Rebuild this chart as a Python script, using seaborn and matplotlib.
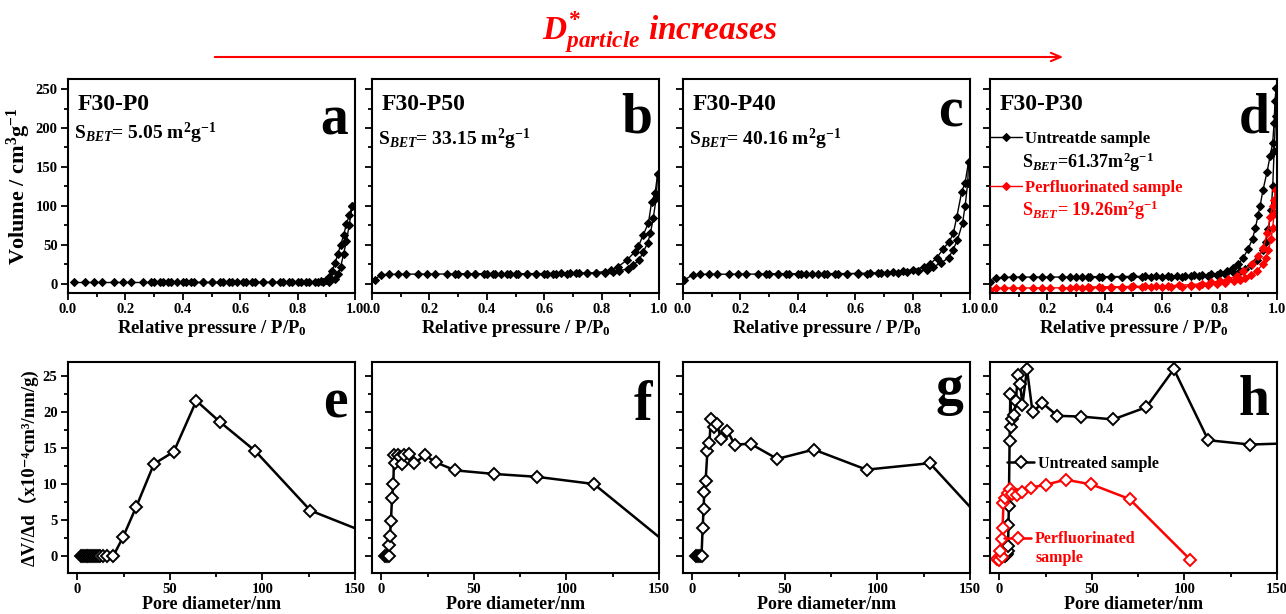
import matplotlib
matplotlib.use('Agg')
import matplotlib.pyplot as plt
from matplotlib.ticker import MultipleLocator
import seaborn as sns

# ---------------- isotherms (P/P0, volume cm3/g) ----------------
a_ads_p = [0.02, 0.06, 0.09, 0.12, 0.16, 0.19, 0.22, 0.26, 0.29, 0.33, 0.36, 0.40, 0.43, 0.47, 0.50, 0.54, 0.57, 0.61,
           0.64, 0.68, 0.71, 0.75, 0.78, 0.81, 0.84, 0.87, 0.89, 0.91, 0.93, 0.94, 0.95, 0.96, 0.97, 0.98, 0.99]
a_ads_v = [1.5, 1.5, 1.5, 1.5, 1.5, 1.5, 1.5, 1.5, 1.5, 1.5, 1.5, 1.5, 1.5, 1.5, 1.5, 1.5, 1.5, 1.5,
           1.5, 1.5, 1.5, 1.5, 1.5, 1.5, 1.5, 1.5, 1.6, 2.5, 6, 12, 22, 38, 55, 76, 100]
a_des_p = [0.99, 0.98, 0.97, 0.96, 0.95, 0.94, 0.93, 0.92, 0.91, 0.90, 0.88, 0.86, 0.83, 0.80, 0.77, 0.74,
           0.71, 0.68, 0.65, 0.62, 0.59, 0.56, 0.53, 0.50, 0.47, 0.44, 0.41, 0.38, 0.35, 0.32, 0.30]
a_des_v = [100, 88, 77, 62, 50, 38, 26, 16, 9, 5, 3, 2.2, 2, 1.9, 1.8, 1.8,
           1.8, 1.7, 1.7, 1.7, 1.7, 1.7, 1.6, 1.6, 1.6, 1.6, 1.6, 1.6, 1.5, 1.5, 1.5]

b_ads_p = [0.01, 0.03, 0.06, 0.09, 0.12, 0.16, 0.19, 0.22, 0.26, 0.29, 0.33, 0.36, 0.40, 0.43, 0.47, 0.50, 0.54, 0.57,
           0.61, 0.64, 0.68, 0.71, 0.75, 0.78, 0.81, 0.84, 0.86, 0.89, 0.91, 0.93, 0.945, 0.96, 0.97, 0.98, 0.99, 0.995]
b_ads_v = [5, 11.5, 12, 12, 12.2, 12.3, 12.3, 12.4, 12.4, 12.5, 12.5, 12.5, 12.6, 12.6, 12.6, 12.7, 12.7, 12.8,
           12.8, 12.9, 13, 13.1, 13.3, 13.6, 14, 15, 16.5, 19, 24, 30, 41, 52, 65, 85, 110, 141]
b_des_p = [0.995, 0.986, 0.974, 0.963, 0.945, 0.928, 0.916, 0.887, 0.858, 0.834, 0.81, 0.78, 0.75, 0.72,
           0.69, 0.66, 0.63, 0.60, 0.57, 0.54, 0.51, 0.48, 0.45, 0.42, 0.39, 0.36, 0.33, 0.30]
b_des_v = [141, 116, 105, 78, 63, 48, 41, 30, 22, 18, 15.5, 14.3, 13.7, 13.4,
           13.2, 13.1, 13.0, 12.9, 12.9, 12.8, 12.8, 12.7, 12.7, 12.7, 12.6, 12.6, 12.6, 12.5]

c_ads_p = [0.005, 0.035, 0.06, 0.09, 0.12, 0.16, 0.19, 0.22, 0.26, 0.29, 0.33, 0.36, 0.40, 0.43, 0.47, 0.50, 0.54, 0.57,
           0.61, 0.64, 0.68, 0.71, 0.75, 0.78, 0.82, 0.849, 0.872, 0.90, 0.925, 0.94, 0.956, 0.974, 0.983, 0.992, 0.995]
c_ads_v = [5, 11.5, 12, 12, 12.1, 12.2, 12.2, 12.3, 12.3, 12.4, 12.4, 12.4, 12.5, 12.5, 12.5, 12.6, 12.6, 12.7,
           12.8, 12.9, 13.1, 13.4, 13.8, 14.5, 16, 18, 21.6, 27, 33, 43, 56, 78, 100, 130, 157]
c_des_p = [0.995, 0.983, 0.971, 0.954, 0.942, 0.928, 0.907, 0.884, 0.861, 0.838, 0.803, 0.768,
           0.73, 0.69, 0.65, 0.61, 0.57, 0.53, 0.49, 0.45, 0.41, 0.37, 0.33, 0.30]
c_des_v = [157, 130, 118, 86, 65, 54, 45, 33, 25.5, 21, 18, 15.7,
           15, 14, 13.5, 13.2, 13.0, 12.9, 12.8, 12.7, 12.6, 12.6, 12.5, 12.5]

d_unt_ads_p = [0.0, 0.02, 0.05, 0.08, 0.11, 0.15, 0.18, 0.21, 0.25, 0.28, 0.32, 0.35, 0.39, 0.42, 0.46, 0.49, 0.53,
               0.56, 0.60, 0.63, 0.67, 0.70, 0.73, 0.76, 0.79, 0.82, 0.85, 0.87, 0.89, 0.91, 0.93, 0.95, 0.96,
               0.97, 0.98, 0.985, 0.99, 0.995, 0.997]
d_unt_ads_v = [2, 7, 8, 8.5, 8.5, 8.5, 8.5, 8.5, 8.5, 8.5, 8.4, 8.4, 8.4, 8.4, 8.4, 8.5, 8.5,
               8.6, 8.7, 8.8, 9, 9.3, 9.7, 10.3, 11, 12, 14, 16, 19, 24, 31, 43, 54,
               70, 95, 125, 170, 215, 252]
d_unt_des_p = [0.997, 0.993, 0.99, 0.985, 0.976, 0.965, 0.951, 0.941, 0.934, 0.925, 0.915, 0.90, 0.882, 0.865,
               0.845, 0.825, 0.80, 0.77, 0.74, 0.71, 0.68, 0.65, 0.62, 0.58, 0.54, 0.50, 0.46, 0.42, 0.38, 0.34, 0.30]
d_unt_des_v = [252, 235, 207, 181, 164, 143, 120, 100, 88, 72, 58, 45, 33, 25,
               20, 16, 13.5, 12, 11, 10.5, 10, 9.8, 9.6, 9.5, 9.4, 9.3, 9.2, 9.1, 9.0, 9.0, 9.0]
d_pf_ads_p = [0.0, 0.02, 0.05, 0.08, 0.11, 0.15, 0.18, 0.21, 0.25, 0.28, 0.32, 0.35, 0.39, 0.42, 0.46, 0.49, 0.53,
              0.56, 0.60, 0.63, 0.67, 0.70, 0.73, 0.76, 0.79, 0.82, 0.85, 0.87, 0.89, 0.91, 0.93, 0.95, 0.96,
              0.97, 0.98, 0.985, 0.99, 0.995]
d_pf_ads_v = [-8, -6, -5.5, -5.5, -5.5, -5.5, -5.4, -5.4, -5.4, -5.3, -5.3, -5.2, -5.2, -5.1, -5.0, -4.9, -4.8,
              -4.6, -4.4, -4.1, -3.7, -3.2, -2.5, -1.5, -0.5, 1, 3, 5, 7.5, 11, 16, 25, 33,
              43, 58, 72, 90, 120]
d_pf_des_p = [0.995, 0.99, 0.985, 0.976, 0.966, 0.952, 0.935, 0.912, 0.883, 0.86, 0.83, 0.80, 0.77,
              0.74, 0.70, 0.66, 0.62, 0.58, 0.54, 0.50, 0.46, 0.42, 0.38, 0.34, 0.30]
d_pf_des_v = [120, 108, 100, 86, 65, 46, 35, 25, 15.7, 10, 6, 3.5, 1.5,
              0, -1.2, -2, -2.5, -3, -3.3, -3.6, -3.8, -4, -4.1, -4.2, -4.3]

# ---------------- pore size distributions (nm, 1e-4 cm3/nm/g) ----------------
e_d = [2, 3, 4, 5, 6, 7, 8, 9, 10, 11, 12, 14, 16, 19.5, 24.6, 31.8, 41.4, 52.1, 64.3, 76.8, 96.1, 125.9, 165]
e_v = [0, 0, 0, 0, 0, 0, 0, 0, 0, 0, 0, 0, 0, 0, 2.55, 6.8, 12.8, 14.5, 21.6, 18.7, 14.6, 6.3, 2.3]

f_d = [2, 3, 4, 4.3, 4.7, 5.2, 5.8, 6.5, 6.9, 7.2, 9.0, 10.1, 11.4, 12.4, 15.0, 17.9, 23.6, 29.6, 39.9, 61.0,
       84.1, 114.8, 160]
f_v = [0, 0, 0, 1.5, 2.8, 4.9, 8.0, 10.0, 14.0, 12.9, 14.0, 13.7, 12.8, 14.0, 14.2, 12.9, 14.0, 13.0, 11.9, 11.4,
       11.0, 10.0, 0.5]

g_d = [2, 3, 4, 5, 5.6, 6.1, 6.5, 7.2, 8.2, 9.3, 10.0, 11.5, 13.4, 15.4, 19.0, 22.9, 31.5, 45.9, 65.6, 94.1,
       128.3, 160]
g_v = [0, 0, 0, 0, 3.8, 6.5, 8.9, 10.4, 14.6, 15.7, 19.1, 17.9, 18.4, 16.3, 17.4, 15.5, 15.6, 13.5, 14.8, 12.0,
       12.9, 4.0]

h_unt_d = [3.0, 3.5, 4.0, 4.5, 4.8, 5.0, 5.2, 5.6, 6.0, 6.5, 7.0, 8.0, 9.0, 10.0, 11.3, 12.5, 15.0, 18.0, 23.3,
           31.4, 44.4, 61.5, 79.4, 94.3, 112.9, 135.5, 160]
h_unt_v = [0, 0.1, 0.2, 0.6, 1.4, 4.3, 7.0, 16.0, 22.5, 18.0, 19.0, 19.6, 21.5, 25.2, 24.0, 21.0, 26.0, 20.0, 21.3,
           19.5, 19.4, 19.0, 20.7, 26.0, 16.1, 15.5, 15.7]
h_pf_d = [-1.3, 0.0, 1.4, 0.5, 1.4, 1.8, 2.3, 2.9, 4.7, 5.6, 6.8, 9.5, 12.5, 17.2, 25.1, 35.8, 49.8, 70.4, 103.2]
h_pf_v = [-0.5, -0.6, -0.2, 0.7, 2.3, 3.9, 7.3, 8.1, 8.8, 9.3, 8.6, 8.4, 8.9, 9.5, 9.9, 10.6, 9.95, 7.9, -0.55]

sample_names = ['F30-P0', 'F30-P50', 'F30-P40', 'F30-P30']
sbet_text = ['5.05', '33.15', '40.16']
panel_letters = ['a', 'b', 'c', 'd', 'e', 'f', 'g', 'h']

sns.set_style('ticks')
plt.rcParams['font.family'] = ['Liberation Serif', 'DejaVu Serif', 'Noto Sans CJK SC']
plt.rcParams['font.weight'] = 'bold'
plt.rcParams['axes.labelweight'] = 'bold'
plt.rcParams['mathtext.fontset'] = 'custom'
plt.rcParams['mathtext.rm'] = 'Liberation Serif:bold'
plt.rcParams['mathtext.it'] = 'Liberation Serif:italic:bold'
plt.rcParams['mathtext.bf'] = 'Liberation Serif:bold'
plt.rcParams['text.color'] = 'black'
plt.rcParams['axes.labelcolor'] = 'black'

fig = plt.figure(figsize=(12.86, 6.14), dpi=100)
col_x = [0.0529, 0.2893, 0.5311, 0.7698]
col_w = 0.2232
top = [fig.add_axes([x, 0.5228, col_w, 0.3485]) for x in col_x]
bot = [fig.add_axes([x, 0.0668, col_w, 0.3436]) for x in col_x]


def style(ax, xmaj, ymaj, show_y):
    ax.xaxis.set_major_locator(MultipleLocator(xmaj))
    ax.xaxis.set_minor_locator(MultipleLocator(xmaj / 2))
    ax.yaxis.set_major_locator(MultipleLocator(ymaj))
    ax.yaxis.set_minor_locator(MultipleLocator(ymaj / 2))
    ax.tick_params(which='both', direction='out', colors='black', width=1.3, top=False, right=False)
    ax.tick_params(which='major', length=5, labelsize=10.5, pad=2.5)
    ax.tick_params(which='minor', length=3)
    ax.tick_params(labelleft=show_y)
    for s in ax.spines.values():
        s.set_visible(True)
        s.set_color('black')
        s.set_linewidth(1.5)


def iso(ax, p, v, color, label=None):
    sns.lineplot(x=p, y=v, ax=ax, sort=False, estimator=None, color=color, linewidth=1.0,
                 marker='D', markersize=4, markerfacecolor=color, markeredgecolor=color, label=label)


def psd(ax, d, v, color, label=None):
    sns.lineplot(x=d, y=v, ax=ax, sort=False, estimator=None, color=color, linewidth=1.8,
                 marker='D', markersize=6, markerfacecolor='white', markeredgecolor=color,
                 markeredgewidth=1.4, label=label)


iso(top[0], a_ads_p, a_ads_v, 'black')
iso(top[0], a_des_p, a_des_v, 'black')
iso(top[1], b_ads_p, b_ads_v, 'black')
iso(top[1], b_des_p, b_des_v, 'black')
iso(top[2], c_ads_p, c_ads_v, 'black')
iso(top[2], c_des_p, c_des_v, 'black')
iso(top[3], d_unt_ads_p, d_unt_ads_v, 'black', 'Untreatde sample')
iso(top[3], d_unt_des_p, d_unt_des_v, 'black')
iso(top[3], d_pf_ads_p, d_pf_ads_v, 'red', 'Perfluorinated sample')
iso(top[3], d_pf_des_p, d_pf_des_v, 'red')

psd(bot[0], e_d, e_v, 'black')
psd(bot[1], f_d, f_v, 'black')
psd(bot[2], g_d, g_v, 'black')
psd(bot[3], h_unt_d, h_unt_v, 'black', 'Untreated sample')
psd(bot[3], h_pf_d, h_pf_v, 'red', 'Perfluorinated')

for i, ax in enumerate(top):
    ax.set_xlim(0, 1.0)
    ax.set_ylim(-12, 263)
    style(ax, 0.2, 50, i == 0)
    ax.set_xlabel('Relative pressure / P/P$_{\\mathrm{0}}$', fontsize=13.5, labelpad=1)
    ax.set_ylabel('')
    ax.text(0.035, 0.855, sample_names[i], transform=ax.transAxes, fontsize=17, va='baseline')
for i, ax in enumerate(bot):
    ax.set_xlim(-5, 150)
    ax.set_ylim(-2.4, 27)
    style(ax, 50, 5, i == 0)
    ax.set_xlabel('Pore diameter/nm', fontsize=13, labelpad=0)
    ax.set_ylabel('')

top[0].set_ylabel('Volume / cm$^{\\mathrm{3}}$g$^{\\mathrm{-1}}$', fontsize=16, labelpad=2)
bot[0].set_ylabel('ΔV/Δd（x10⁻⁴cm³/nm/g)', fontsize=13.5, labelpad=3)

sbet_y = [0.72, 0.69, 0.69]
for i, s in enumerate(sbet_text):
    top[i].text(0.02, sbet_y[i], 'S$_{BET}$= ' + s + ' m$^{\\mathrm{2}}$g$^{\\mathrm{-1}}$',
                transform=top[i].transAxes, fontsize=14, va='baseline')

letter_y = [0.74, 0.75, 0.78, 0.75, 0.735, 0.725, 0.8, 0.75]
for i, ax in enumerate(top + bot):
    ax.text(0.975, letter_y[i], panel_letters[i], transform=ax.transAxes, fontsize=40,
            ha='right', va='baseline')

# legends in d
ax = top[3]
hd, lb = ax.get_legend_handles_labels()
prop = dict(family='Liberation Serif', weight='bold', size=12)
leg1 = ax.legend([hd[0]], [lb[0]], loc='center left', bbox_to_anchor=(0.0, 0.72), frameon=False,
                 handlelength=1.9, handletextpad=0.2, borderpad=0, borderaxespad=0, prop=prop)
ax.add_artist(leg1)
ax.legend([hd[1]], [lb[1]], loc='center left', bbox_to_anchor=(0.0, 0.49), frameon=False,
          handlelength=1.9, handletextpad=0.2, borderpad=0, borderaxespad=0, prop=prop, labelcolor='red')
ax.text(0.11, 0.585, 'S$_{BET}$=61.37m$^{\\mathrm{2}}$g$^{\\mathrm{-1}}$', transform=ax.transAxes,
        fontsize=13, va='baseline')
ax.text(0.11, 0.36, 'S$_{BET}$= 19.26m$^{\\mathrm{2}}$g$^{\\mathrm{-1}}$', transform=ax.transAxes,
        fontsize=13, va='baseline', color='red')

# legends in h
ax = bot[3]
hd, lb = ax.get_legend_handles_labels()
prop = dict(family='Liberation Serif', weight='bold', size=11.5)
leg1 = ax.legend([hd[0]], [lb[0]], loc='center left', bbox_to_anchor=(0.06, 0.517), frameon=False,
                 handlelength=1.7, handletextpad=0.2, borderpad=0, borderaxespad=0, prop=prop)
ax.add_artist(leg1)
ax.legend([hd[1]], [lb[1]], loc='center left', bbox_to_anchor=(0.05, 0.16), frameon=False,
          handlelength=1.7, handletextpad=0.2, borderpad=0, borderaxespad=0, prop=prop, labelcolor='red')
ax.text(0.157, 0.05, 'sample', transform=ax.transAxes, fontsize=11.5, va='baseline', color='red')

# header arrow
fig.text(0.513, 1 - 40 / 614, '$D^{*}_{particle}$ increases', color='red', fontsize=24,
         fontstyle='italic', ha='center', va='baseline')
top[0].annotate('', xy=(1066 / 1286, 1 - 57 / 614), xytext=(212 / 1286, 1 - 57 / 614),
                xycoords='figure fraction', textcoords='figure fraction',
                arrowprops=dict(arrowstyle='->,head_length=0.7,head_width=0.3', color='red', lw=1.5))

fig.savefig('out.png', dpi=100)
